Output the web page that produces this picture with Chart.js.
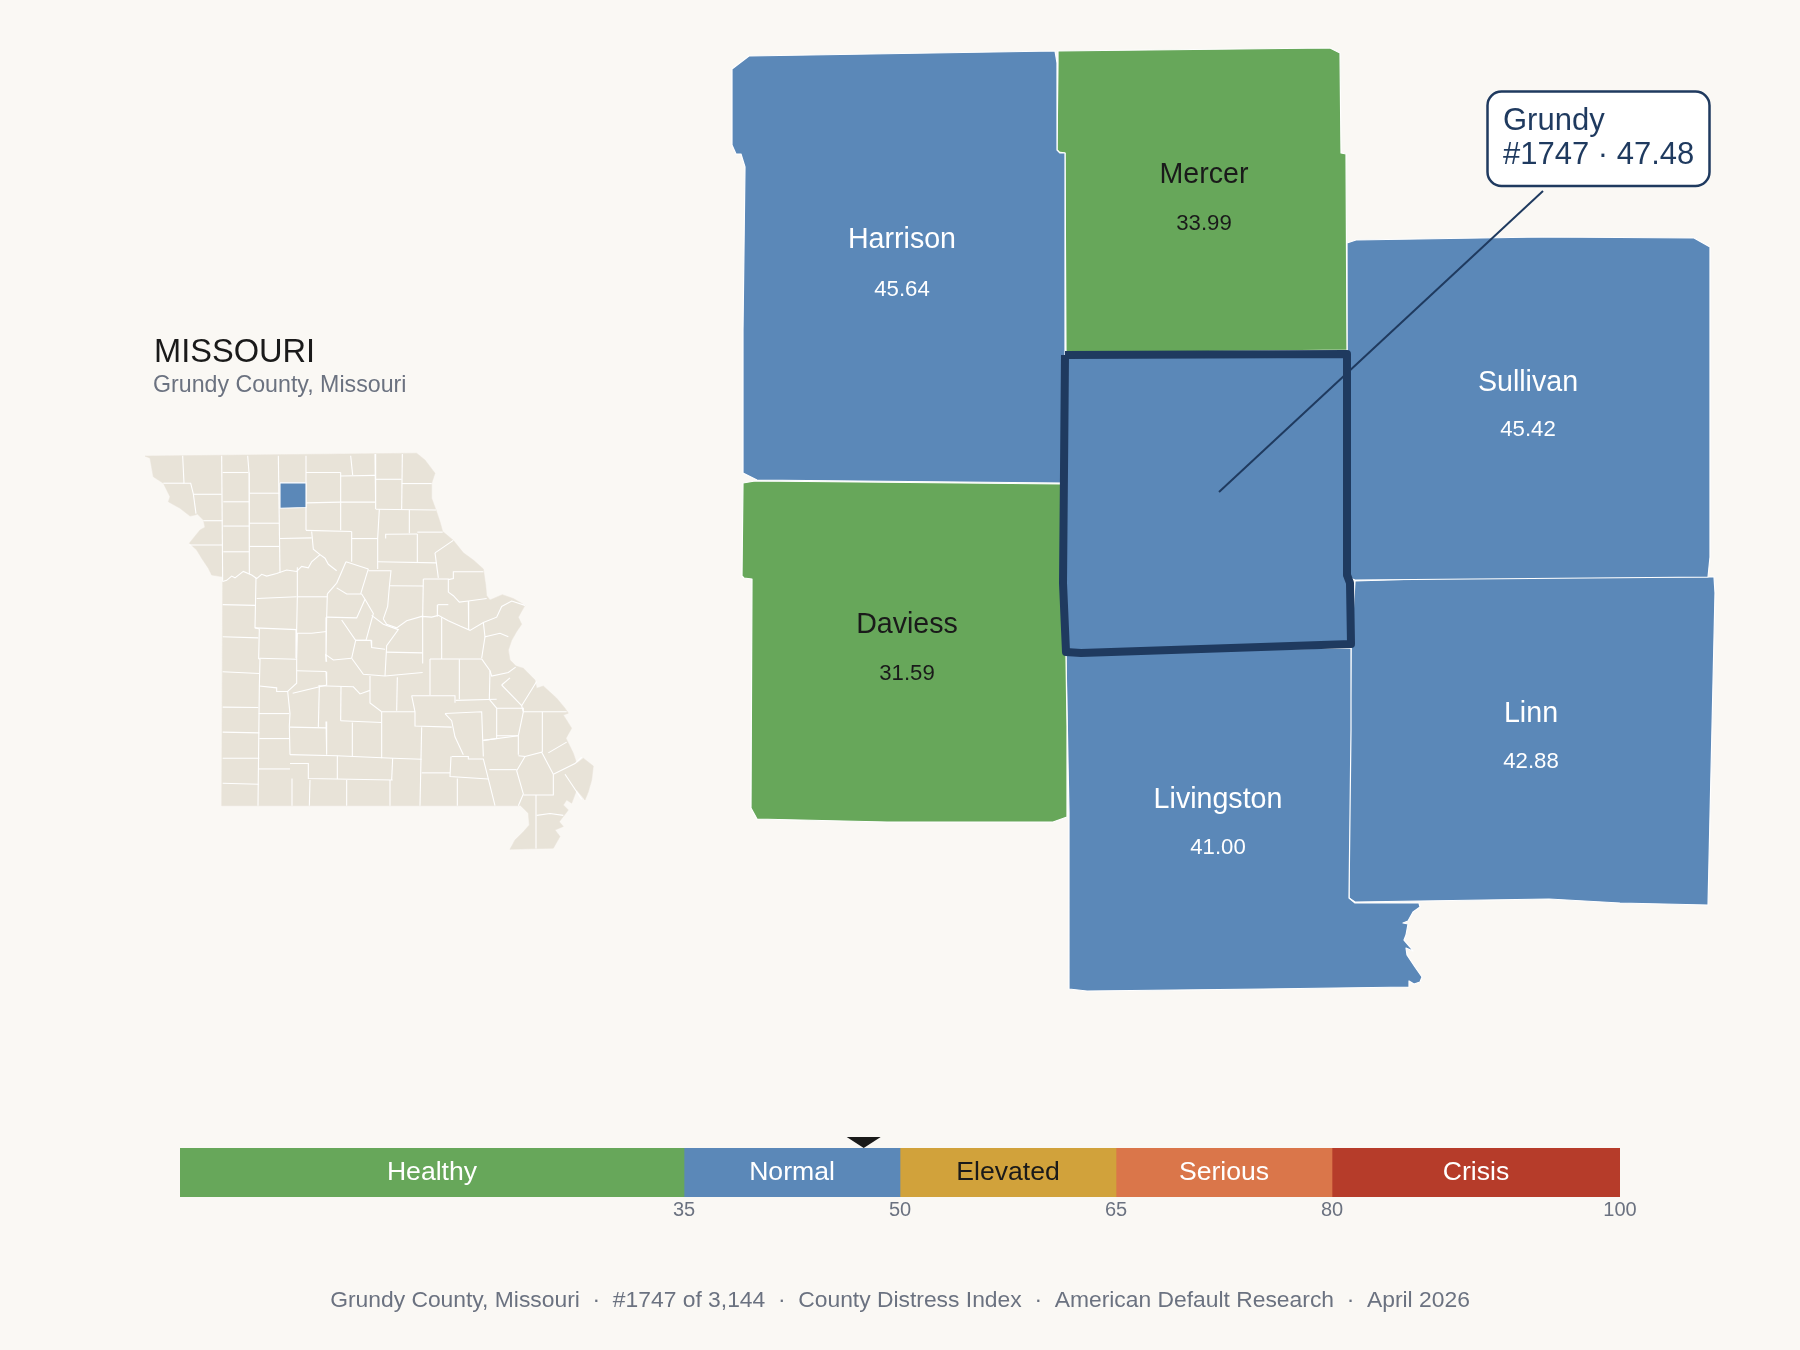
<!DOCTYPE html>
<html>
<head>
<meta charset="utf-8">
<title>Grundy County, Missouri</title>
<script src="https://cdn.jsdelivr.net/npm/chart.js@4"></script>
<style>
  html, body { margin: 0; padding: 0; background: #faf8f4; }
  #page { position: relative; width: 1800px; height: 1350px; overflow: hidden; }
  canvas { position: absolute; display: block; }
  #mapChart { left: 0; top: 0; }
  #stateChart { left: 120px; top: 310px; }
  #bandChart { left: 0; top: 1120px; }
</style>
</head>
<body>
<div id="page">
  <canvas id="mapChart" width="1800" height="1350"></canvas>
  <canvas id="stateChart" width="500" height="560"></canvas>
  <canvas id="bandChart" width="1800" height="230"></canvas>
</div>
<script>
// county scores
const countyNames = ['Harrison', 'Mercer', 'Sullivan', 'Daviess', 'Livingston', 'Linn'];
const countyValues = [45.64, 33.99, 45.42, 31.59, 41.00, 42.88];
const focusName = 'Grundy';
const focusRank = 1747;
const focusValue = 47.48;

// scale bands
const bandNames = ['Healthy', 'Normal', 'Elevated', 'Serious', 'Crisis'];
const bandWidths = [35, 15, 15, 15, 20];
const scaleTicks = [35, 50, 65, 80, 100];

// county outlines, map units
const harrisonShape = [[749,56],[1055,51],[1057,63],[1057,150],[1060,153],[1065,153],[1065,352],[1063,483],[757,480],[743,473],[743,330],[745,167],[741,154],[736,154],[732,145],[732,69]];
const mercerShape = [[1058,51],[1330,48],[1340,53],[1341,153],[1346,154],[1347,350],[1066,353],[1065,153],[1059,152],[1057,150],[1058,63]];
const sullivanShape = [[1347,243],[1356,240],[1543,237],[1694,238],[1710,247],[1710,557],[1708,577],[1355,580],[1350,578],[1347,575],[1347,350]];
const linnShape = [[1355,581],[1486,577],[1714,577],[1715,593],[1708,905],[1620,903],[1549,899],[1355,902],[1349,898],[1349,813],[1350,730],[1351,650]];
const livingstonShape = [[1066,652],[1351,648],[1351,730],[1349,898],[1355,903],[1419,903],[1420,907],[1413,912],[1408,921],[1403,923],[1408,924],[1406,935],[1404,940],[1410,947],[1413,951],[1406,948],[1407,955],[1415,967],[1422,977],[1420,982],[1414,984],[1409,981],[1409,987],[1263,989],[1087,991],[1069,989],[1069,813],[1066,657]];
const daviessShape = [[743,483],[755,481],[1062,484],[1064,600],[1066,657],[1067,727],[1067,817],[1053,822],[887,822],[757,819],[751,808],[752,579],[744,578],[742,576]];
const grundyShape = [[1065,355],[1347,354],[1347,575],[1350,583],[1351,644],[1081,653],[1066,652],[1063,583],[1064,470]];
const leaderLine = [[1219,492],[1543,191]];

// small state map, map units
const stateShape = [[75,409],[90,415],[100,467],[130,485],[150,523],[145,537],[180,555],[210,577],[225,574],[232,571],[250,588],[255,608],[240,616],[220,639],[208,653],[230,672],[245,695],[265,723],[275,742],[308,747],[308,760],[305,1388],[1197,1388],[1200,1386],[1225,1409],[1228,1442],[1210,1461],[1185,1484],[1170,1510],[1300,1507],[1320,1474],[1305,1456],[1330,1446],[1318,1433],[1330,1418],[1345,1400],[1330,1386],[1340,1372],[1355,1381],[1370,1344],[1395,1372],[1405,1349],[1415,1316],[1420,1277],[1390,1255],[1370,1269],[1360,1241],[1338,1199],[1355,1171],[1330,1134],[1345,1129],[1335,1115],[1310,1087],[1270,1053],[1250,1059],[1245,1036],[1210,1003],[1188,997],[1170,980],[1165,952],[1175,925],[1190,900],[1205,880],[1195,860],[1215,827],[1180,808],[1147,797],[1110,812],[1100,800],[1097,770],[1090,725],[1060,700],[1030,680],[1000,645],[968,620],[960,593],[950,565],[935,527],[935,485],[945,457],[915,420],[890,401]];
const stateFocus = [[480,484],[558,484],[558,553],[480,555]];
const stateLines = [
  [[188,408],[192,485],[212,485],[220,515],[228,570]], [[130,485],[192,485]], [[222,516],[305,516]],
  [[305,408],[308,760]], [[250,590],[308,590]], [[208,658],[308,658]], [[308,455],[385,455]],
  [[383,408],[387,455],[388,740]], [[310,537],[388,537]], [[310,605],[388,605]], [[310,677],[388,677]],
  [[388,513],[478,513]], [[388,597],[478,597]], [[388,662],[478,662]], [[475,408],[480,735]],
  [[480,484],[558,484]], [[558,408],[558,617]], [[480,640],[575,638]], [[558,455],[662,455]],
  [[662,455],[662,617]], [[662,465],[765,463]], [[558,540],[662,538]], [[662,538],[767,538]],
  [[692,408],[698,462]], [[765,403],[767,557]], [[767,474],[845,474]], [[847,403],[845,558]],
  [[845,486],[935,486]], [[767,558],[948,560]], [[778,558],[773,640],[773,725]], [[868,560],[868,625]],
  [[558,617],[695,620]], [[695,620],[695,705]], [[695,640],[773,640]], [[797,640],[797,628],[892,627]],
  [[892,627],[892,708]], [[892,622],[968,622]], [[773,705],[950,708]], [[945,680],[1000,645]], [[945,680],[955,750]],
  // river
  [[308,760],[320,757],[335,745],[345,750],[370,732],[395,742],[410,752],[425,740],[440,745],[470,738],[500,728],[530,732],[545,718],[565,722],[575,705],[600,685],[615,695],[625,712],[650,730]],
  [[575,620],[580,670],[600,685]], [[678,705],[745,725]], [[678,705],[650,765]], [[745,725],[722,795]],
  [[745,730],[813,730],[808,775],[803,830],[790,865]], [[808,772],[910,773]], [[910,753],[985,753],[985,790]],
  [[910,753],[908,858]], [[985,755],[1000,752],[1000,733],[1090,733]], [[985,790],[1000,800],[1018,818],[1045,815],[1100,808]],
  [[953,825],[985,825]], [[953,825],[952,858]], [[1045,815],[1046,895]],
  [[790,865],[800,880],[830,890],[860,870],[905,858],[935,860],[955,855],[985,870],[1020,885],[1050,897],[1090,875],[1130,860],[1145,830],[1175,815],[1215,827]],
  [[1090,875],[1095,915],[1140,905],[1165,915]], [[1095,915],[1085,975]], [[965,860],[965,977]], [[908,858],[908,990]],
  [[1085,977],[930,977]], [[930,977],[930,1078]], [[1018,978],[1018,1090]], [[1085,977],[1110,1010],[1115,1025],[1165,1015],[1187,1000]],
  [[1110,1010],[1108,1090]], [[1145,1050],[1170,1030]], [[1145,1050],[1205,1108],[1250,1040]], [[1205,1108],[1210,1125]],
  // west side rows
  [[308,825],[405,827]], [[308,915],[415,918]], [[308,1013],[418,1018]], [[308,1112],[415,1113]], [[308,1182],[418,1184]],
  [[308,1255],[418,1255]], [[308,1325],[416,1328]], [[408,750],[405,890],[418,893],[416,976],[420,978],[418,1053],[414,1388]],
  [[410,808],[530,803]], [[532,720],[532,803],[530,895],[528,975]], [[405,890],[530,895]], [[418,975],[530,978],[532,905],[575,905],[620,900]],
  [[530,978],[530,1045],[503,1068]], [[418,1053],[470,1058],[470,1068],[503,1068],[510,1130],[508,1165],[510,1245]],
  [[416,1130],[508,1130]], [[418,1200],[510,1200]], [[416,1285],[510,1285]], [[532,803],[622,803]], [[622,795],[620,860],[618,985]],
  [[650,765],[622,795]], [[650,778],[680,795],[725,795],[735,810],[710,862],[620,860]], [[665,868],[707,925],[695,975]],
  [[735,810],[760,850],[738,925],[707,925]], [[755,855],[790,880],[835,895],[800,940],[795,1025]], [[695,975],[730,1020],[795,1025],[908,1015]],
  [[707,925],[753,925],[755,945],[795,950]], [[798,958],[908,960]], [[620,985],[617,965],[640,980],[695,975]], [[530,1010],[618,1012]],
  [[618,1012],[620,1050],[518,1073]], [[595,1052],[700,1055],[720,1075],[750,1065]], [[750,1025],[750,1100],[785,1125]], [[832,1028],[830,1122]],
  [[785,1125],[885,1125]], [[875,1080],[1005,1080],[1005,1100]], [[875,1080],[885,1125],[885,1165],[995,1168]], [[598,1052],[595,1168]],
  [[663,1055],[662,1150]], [[662,1150],[785,1155]], [[618,1152],[620,1245]], [[697,1155],[697,1250]], [[510,1168],[618,1170]], [[785,1125],[785,1255]],
  [[510,1245],[650,1248],[820,1255],[905,1258]], [[652,1248],[652,1313]], [[510,1270],[565,1270],[565,1312],[818,1316]], [[516,1312],[516,1388]],
  [[570,1316],[568,1388]], [[680,1316],[680,1388]], [[810,1316],[810,1388]], [[818,1255],[815,1316]], [[905,1168],[900,1388]], [[905,1296],[990,1296]],
  [[993,1250],[990,1306],[1105,1313]], [[1012,1312],[1012,1388]], [[995,1250],[1045,1250],[1045,1257],[1090,1257],[1105,1313],[1125,1388]],
  [[1108,1287],[1190,1287]], [[975,1130],[1085,1125],[1090,1250]], [[975,1130],[995,1150],[1005,1195],[1030,1245]], [[1007,1093],[1130,1090]],
  [[1130,1115],[1130,1200],[1090,1205]], [[1108,1090],[1130,1115],[1210,1115],[1210,1125]], [[1130,1192],[1195,1192],[1195,1245]], [[1090,1205],[1195,1192]],
  [[1195,1248],[1215,1250],[1190,1290],[1210,1355],[1195,1388]], [[1215,1250],[1265,1238],[1300,1300],[1300,1358],[1210,1358]], [[1210,1125],[1195,1192]],
  [[1267,1125],[1267,1238]], [[1210,1125],[1340,1125]], [[1285,1240],[1340,1210]], [[1300,1300],[1365,1270],[1385,1252]], [[1335,1300],[1385,1370]],
  [[1248,1358],[1248,1508]], [[1250,1415],[1290,1410],[1330,1415]]
];

const FONT = '"Liberation Sans", Arial, sans-serif';
const COL = {
  green: '#67a75a', blue: '#5b88b8', gold: '#d1a23b', orange: '#da764a', red: '#b63c2a',
  tan: '#e8e3d8', navy: '#1f3a5f', ink: '#1a1a1a', grey: '#6b7280'
};
const bandColors = [COL.green, COL.blue, COL.gold, COL.orange, COL.red];
const bandInk = ['#ffffff', '#ffffff', COL.ink, '#ffffff', '#ffffff'];
const countyInk = [COL.ink, '#ffffff', COL.ink, '#ffffff', '#ffffff'];
const countyShapes = [harrisonShape, mercerShape, sullivanShape, daviessShape, livingstonShape, linnShape];
// centre, name baseline, value baseline, map units
const countyLabelAt = [[902, 248, 296], [1204, 183, 230], [1528, 391, 436], [907, 633, 680], [1218, 808, 854], [1531, 722, 768]];

const toPoints = (a, closed) => (closed ? a.concat([a[0]]) : a).map(p => ({ x: p[0], y: p[1] }));
const bandOf = v => { let top = 0; for (let i = 0; i < bandWidths.length; i++) { top += bandWidths[i]; if (v < top) return i; } return bandWidths.length - 1; };

function shape(points, fillColor, lineColor, lineWidth) {
  return {
    data: toPoints(points, true), showLine: true, fill: false, polygonFill: fillColor,
    borderColor: lineColor, borderWidth: lineWidth, borderJoinStyle: 'round', pointRadius: 0, tension: 0
  };
}
function polyline(points, lineColor, lineWidth) {
  return { data: toPoints(points, false), showLine: true, fill: false, borderColor: lineColor, borderWidth: lineWidth, pointRadius: 0, tension: 0 };
}

// fills each closed outline from the points the scales have placed
const polygonFill = {
  id: 'polygonFill',
  beforeDatasetDraw(chart, args) {
    const ds = chart.data.datasets[args.index];
    if (!ds.polygonFill) return;
    const pts = args.meta.data, ctx = chart.ctx;
    ctx.save();
    ctx.beginPath();
    pts.forEach((p, i) => i ? ctx.lineTo(p.x, p.y) : ctx.moveTo(p.x, p.y));
    ctx.closePath();
    ctx.fillStyle = ds.polygonFill;
    ctx.fill();
    ctx.restore();
  }
};

const mapText = {
  id: 'mapText',
  afterDatasetsDraw(chart) {
    const ctx = chart.ctx, X = chart.scales.x, Y = chart.scales.y;
    const put = (txt, x, y, font, color, align) => {
      ctx.font = font; ctx.fillStyle = color; ctx.textAlign = align || 'center'; ctx.textBaseline = 'alphabetic';
      ctx.fillText(txt, X.getPixelForValue(x), Y.getPixelForValue(y));
    };
    ctx.save();
    countyNames.forEach((name, i) => {
      const ink = bandOf(countyValues[i]) === 0 ? COL.ink : '#ffffff';
      const at = countyLabelAt[i];
      put(name, at[0], at[1], '28.6px ' + FONT, ink);
      put(countyValues[i].toFixed(2), at[0], at[2], '22.2px ' + FONT, ink);
    });

    ctx.beginPath();
    ctx.roundRect(X.getPixelForValue(1487.5), Y.getPixelForValue(91.5), 222, 94.5, 14);
    ctx.fillStyle = '#ffffff'; ctx.fill();
    ctx.lineWidth = 2.5; ctx.strokeStyle = COL.navy; ctx.stroke();
    put(focusName, 1503, 129.5, '31px ' + FONT, COL.navy, 'left');
    put('#' + focusRank + ' \u00b7 ' + focusValue.toFixed(2), 1503, 164, '31px ' + FONT, COL.navy, 'left');

    put('MISSOURI', 154, 362, '32.6px ' + FONT, COL.ink, 'left');
    put(focusName + ' County, Missouri', 153, 392, '23.2px ' + FONT, COL.grey, 'left');
    put(focusName + ' County, Missouri  \u00b7  #' + focusRank + ' of 3,144  \u00b7  County Distress Index  \u00b7  American Default Research  \u00b7  April 2026',
      900, 1307, '22.85px ' + FONT, COL.grey);
    ctx.restore();
  }
};

const bandText = {
  id: 'bandText',
  afterDatasetsDraw(chart) {
    const ctx = chart.ctx;
    ctx.save();
    ctx.font = '26.6px ' + FONT; ctx.textAlign = 'center'; ctx.textBaseline = 'alphabetic';
    bandNames.forEach((name, i) => {
      const c = chart.getDatasetMeta(i).data[0].getCenterPoint();
      ctx.fillStyle = bandInk[i];
      ctx.fillText(name, c.x, chart.chartArea.top + 32);
    });
    // marker for the focus county
    const mx = chart.scales.x.getPixelForValue(focusValue), top = chart.chartArea.top;
    ctx.beginPath();
    ctx.moveTo(mx - 17, top - 11); ctx.lineTo(mx + 17, top - 11); ctx.lineTo(mx, top); ctx.closePath();
    ctx.fillStyle = COL.ink; ctx.fill();
    ctx.restore();
  }
};

const hiddenAxes = (w, h) => ({
  x: { type: 'linear', display: false, min: 0, max: w },
  y: { type: 'linear', display: false, min: 0, max: h, reverse: true }
});
const quiet = { legend: { display: false }, tooltip: { enabled: false }, title: { display: false } };

new Chart(document.getElementById('mapChart'), {
  type: 'scatter',
  plugins: [polygonFill, mapText],
  data: {
    datasets: [
      polyline(leaderLine, COL.navy, 2),
      shape(grundyShape, COL.blue, COL.navy, 8)
    ].concat(countyShapes.map((s, i) => shape(s, bandColors[bandOf(countyValues[i])], '#ffffff', 1.2)))
  },
  options: {
    responsive: false, animation: false, events: [], layout: { padding: 0 },
    scales: hiddenAxes(1800, 1350), plugins: quiet
  }
});

new Chart(document.getElementById('stateChart'), {
  type: 'scatter',
  plugins: [polygonFill],
  data: {
    datasets: [shape(stateFocus, COL.blue, '#ffffff', 1.1)]
      .concat(stateLines.map(l => polyline(l, '#ffffff', 1.1)))
      .concat([shape(stateShape, COL.tan, COL.tan, 0.5)])
  },
  options: {
    responsive: false, animation: false, events: [], layout: { padding: 0 },
    scales: hiddenAxes(1500, 1568), plugins: quiet
  }
});

new Chart(document.getElementById('bandChart'), {
  type: 'bar',
  plugins: [bandText],
  data: {
    labels: ['Index'],
    datasets: bandNames.map((name, i) => ({
      label: name, data: [bandWidths[i]], backgroundColor: bandColors[i],
      barPercentage: 1, categoryPercentage: 1, borderWidth: 0, stack: 'bands'
    }))
  },
  options: {
    indexAxis: 'y', responsive: false, animation: false, events: [],
    layout: { padding: { left: 180, right: 180, top: 28, bottom: 0 } },
    scales: {
      y: { display: false, stacked: true },
      x: {
        type: 'linear', min: 0, max: 100, stacked: true, position: 'bottom',
        border: { display: false }, grid: { display: false, drawTicks: false },
        afterBuildTicks: s => { s.ticks = scaleTicks.map(v => ({ value: v })); },
        afterFit: s => { s.height = 153; },
        ticks: { color: COL.grey, autoSkip: false, maxRotation: 0, padding: 1, font: { family: FONT, size: 20 } }
      }
    },
    plugins: quiet
  }
});
</script>
</body>
</html>
